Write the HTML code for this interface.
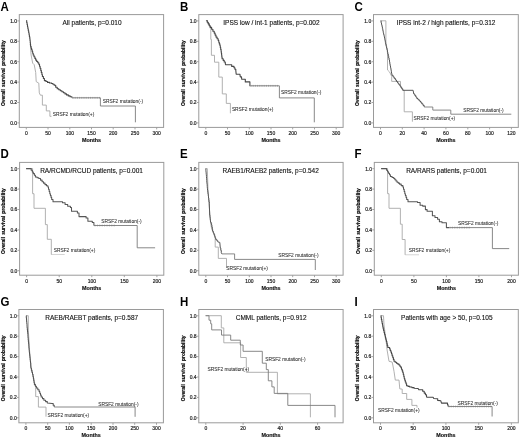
<!DOCTYPE html>
<html><head><meta charset="utf-8"><style>
html,body{margin:0;padding:0;background:#fff;width:520px;height:439px;overflow:hidden}
svg{display:block;will-change:transform}
text{font-family:"Liberation Sans",sans-serif;fill:#222}
.L{font-size:11.5px;font-weight:bold;fill:#000}
.T{font-size:6.5px;fill:#111;stroke:#111;stroke-width:0.12px}
.t{font-size:5px;fill:#222;stroke:#222;stroke-width:0.18px}
.s{font-size:4.85px;fill:#2a2a2a;stroke:#2a2a2a;stroke-width:0.06px}
.M{font-size:5.4px;font-weight:bold;fill:#111;stroke:#111;stroke-width:0.15px}
.Y{font-size:5px;font-weight:bold;fill:#000;stroke:#000;stroke-width:0.16px}
</style></head><body>
<svg width="520" height="439" viewBox="0 0 520 439">
<rect x="19.3" y="14.6" width="144.3" height="112.8" fill="none" stroke="#9a9a9a" stroke-width="1"/>
<text transform="translate(0.4,10.9) scale(1,1.09)" class="L">A</text>
<text x="92.05" y="25.3" class="T" text-anchor="middle">All patients, p=0.010</text>
<line x1="17.3" y1="122.9" x2="19.3" y2="122.9" stroke="#9a9a9a" stroke-width="0.9"/>
<text x="17.1" y="124.7" class="t" text-anchor="end">0.0</text>
<line x1="17.3" y1="102.5" x2="19.3" y2="102.5" stroke="#9a9a9a" stroke-width="0.9"/>
<text x="17.1" y="104.3" class="t" text-anchor="end">0.2</text>
<line x1="17.3" y1="82.1" x2="19.3" y2="82.1" stroke="#9a9a9a" stroke-width="0.9"/>
<text x="17.1" y="83.9" class="t" text-anchor="end">0.4</text>
<line x1="17.3" y1="61.7" x2="19.3" y2="61.7" stroke="#9a9a9a" stroke-width="0.9"/>
<text x="17.1" y="63.5" class="t" text-anchor="end">0.6</text>
<line x1="17.3" y1="41.3" x2="19.3" y2="41.3" stroke="#9a9a9a" stroke-width="0.9"/>
<text x="17.1" y="43.1" class="t" text-anchor="end">0.8</text>
<line x1="17.3" y1="20.9" x2="19.3" y2="20.9" stroke="#9a9a9a" stroke-width="0.9"/>
<text x="17.1" y="22.7" class="t" text-anchor="end">1.0</text>
<line x1="26.3" y1="127.4" x2="26.3" y2="129.4" stroke="#9a9a9a" stroke-width="0.9"/>
<text x="26.3" y="134.8" class="t" text-anchor="middle">0</text>
<line x1="48.0" y1="127.4" x2="48.0" y2="129.4" stroke="#9a9a9a" stroke-width="0.9"/>
<text x="48.0" y="134.8" class="t" text-anchor="middle">50</text>
<line x1="69.8" y1="127.4" x2="69.8" y2="129.4" stroke="#9a9a9a" stroke-width="0.9"/>
<text x="69.8" y="134.8" class="t" text-anchor="middle">100</text>
<line x1="91.5" y1="127.4" x2="91.5" y2="129.4" stroke="#9a9a9a" stroke-width="0.9"/>
<text x="91.5" y="134.8" class="t" text-anchor="middle">150</text>
<line x1="113.2" y1="127.4" x2="113.2" y2="129.4" stroke="#9a9a9a" stroke-width="0.9"/>
<text x="113.2" y="134.8" class="t" text-anchor="middle">200</text>
<line x1="135.0" y1="127.4" x2="135.0" y2="129.4" stroke="#9a9a9a" stroke-width="0.9"/>
<text x="135.0" y="134.8" class="t" text-anchor="middle">250</text>
<line x1="156.7" y1="127.4" x2="156.7" y2="129.4" stroke="#9a9a9a" stroke-width="0.9"/>
<text x="156.7" y="134.8" class="t" text-anchor="middle">300</text>
<text x="91.5" y="141.9" class="M" text-anchor="middle">Months</text>
<text transform="translate(5.1,73.2) rotate(-90)" class="Y" text-anchor="middle" word-spacing="0.8">Overall survival probability</text>
<polyline points="30.3,44.0 31.1,55.0 32.7,63.2 34.2,64.7 35.7,72.4 36.2,81.6 38.8,83.2 39.3,92.9 40.4,95.2 42.4,95.2 42.4,105.1 46.3,105.1 46.3,110.9 49.9,110.9 49.9,116.3 51.5,116.3" fill="none" stroke="#a8a8a8" stroke-width="0.9" stroke-linejoin="round"/>
<polyline points="26.3,20.5 26.7,20.5 26.7,22.6 27.1,22.6 27.1,24.6 27.5,24.6 27.5,26.7 27.9,26.7 27.9,28.7 28.3,28.7 28.3,30.8 28.7,30.8 28.7,32.8 29.1,32.8 29.1,34.8 29.4,34.8 29.4,36.8 29.8,36.8 29.8,38.8 30.0,38.8 30.0,40.6 30.2,40.6 30.2,42.5 30.4,42.5 30.4,44.4 30.6,44.4 30.6,46.2 31.1,46.2 31.1,48.0 31.6,48.0 31.6,49.7 32.2,49.7 32.2,51.5 32.7,51.5 32.7,53.2 33.2,53.2 33.2,55.0 34.0,55.0 34.0,56.7 34.9,56.7 34.9,58.4 35.7,58.4 35.7,60.1 36.7,60.1 36.7,61.5 37.8,61.5 37.8,62.8 38.8,62.8 38.8,64.2 39.5,64.2 39.5,66.3 40.1,66.3 40.1,68.3 40.8,68.3 40.8,70.4 41.3,70.4 41.3,72.4 41.9,72.4 41.9,74.5 42.4,74.5 42.4,76.5 43.4,76.5 43.4,78.5 44.4,78.5 44.4,80.6 46.0,80.6 46.0,81.5 47.5,81.5 47.5,82.4 49.5,82.4 49.5,83.0 51.6,83.0 51.6,83.5 52.9,83.5 52.9,84.3 54.2,84.3 54.2,85.2 55.7,85.2 55.7,87.3 57.2,87.3 57.2,88.7 58.8,88.7 58.8,89.7 60.3,89.7 60.3,90.8 61.9,90.8 61.9,91.8 63.4,91.8 63.4,92.8 65.0,92.8 65.0,93.9 66.5,93.9 66.5,94.9 68.3,94.9 68.3,95.9 70.1,95.9 70.1,96.8 71.9,96.8 71.9,97.8" fill="none" stroke="#474747" stroke-width="1.1" stroke-linejoin="round"/>
<polyline points="71.9,97.8 100.4,97.8 100.4,106.0 135.4,106.0 135.4,122.3" fill="none" stroke="#7a7a7a" stroke-width="0.9" stroke-linejoin="round"/>
<path d="M73.0 96.9v1.8M75.2 96.9v1.8M77.4 96.9v1.8M79.6 96.9v1.8M81.8 96.9v1.8M84.0 96.9v1.8M86.2 96.9v1.8M88.4 96.9v1.8M90.6 96.9v1.8M92.8 96.9v1.8M95.0 96.9v1.8M97.2 96.9v1.8M99.4 96.9v1.8" stroke="#7a7a7a" stroke-width="0.6" fill="none"/>
<text x="102.7" y="103.0" class="s">SRSF2 mutation(-)</text>
<text x="52.7" y="115.8" class="s">SRSF2 mutation(+)</text>
<rect x="198.8" y="14.6" width="144.3" height="112.8" fill="none" stroke="#9a9a9a" stroke-width="1"/>
<text transform="translate(179.9,10.9) scale(1,1.09)" class="L">B</text>
<text x="271.45" y="25.3" class="T" text-anchor="middle">IPSS low / int-1 patients, p=0.002</text>
<line x1="196.8" y1="122.9" x2="198.8" y2="122.9" stroke="#9a9a9a" stroke-width="0.9"/>
<text x="196.6" y="124.7" class="t" text-anchor="end">0.0</text>
<line x1="196.8" y1="102.5" x2="198.8" y2="102.5" stroke="#9a9a9a" stroke-width="0.9"/>
<text x="196.6" y="104.3" class="t" text-anchor="end">0.2</text>
<line x1="196.8" y1="82.1" x2="198.8" y2="82.1" stroke="#9a9a9a" stroke-width="0.9"/>
<text x="196.6" y="83.9" class="t" text-anchor="end">0.4</text>
<line x1="196.8" y1="61.7" x2="198.8" y2="61.7" stroke="#9a9a9a" stroke-width="0.9"/>
<text x="196.6" y="63.5" class="t" text-anchor="end">0.6</text>
<line x1="196.8" y1="41.3" x2="198.8" y2="41.3" stroke="#9a9a9a" stroke-width="0.9"/>
<text x="196.6" y="43.1" class="t" text-anchor="end">0.8</text>
<line x1="196.8" y1="20.9" x2="198.8" y2="20.9" stroke="#9a9a9a" stroke-width="0.9"/>
<text x="196.6" y="22.7" class="t" text-anchor="end">1.0</text>
<line x1="205.8" y1="127.4" x2="205.8" y2="129.4" stroke="#9a9a9a" stroke-width="0.9"/>
<text x="205.8" y="134.8" class="t" text-anchor="middle">0</text>
<line x1="227.5" y1="127.4" x2="227.5" y2="129.4" stroke="#9a9a9a" stroke-width="0.9"/>
<text x="227.5" y="134.8" class="t" text-anchor="middle">50</text>
<line x1="249.3" y1="127.4" x2="249.3" y2="129.4" stroke="#9a9a9a" stroke-width="0.9"/>
<text x="249.3" y="134.8" class="t" text-anchor="middle">100</text>
<line x1="271.0" y1="127.4" x2="271.0" y2="129.4" stroke="#9a9a9a" stroke-width="0.9"/>
<text x="271.0" y="134.8" class="t" text-anchor="middle">150</text>
<line x1="292.7" y1="127.4" x2="292.7" y2="129.4" stroke="#9a9a9a" stroke-width="0.9"/>
<text x="292.7" y="134.8" class="t" text-anchor="middle">200</text>
<line x1="314.5" y1="127.4" x2="314.5" y2="129.4" stroke="#9a9a9a" stroke-width="0.9"/>
<text x="314.5" y="134.8" class="t" text-anchor="middle">250</text>
<line x1="336.2" y1="127.4" x2="336.2" y2="129.4" stroke="#9a9a9a" stroke-width="0.9"/>
<text x="336.2" y="134.8" class="t" text-anchor="middle">300</text>
<text x="271.0" y="141.9" class="M" text-anchor="middle">Months</text>
<text transform="translate(184.6,73.2) rotate(-90)" class="Y" text-anchor="middle" word-spacing="0.8">Overall survival probability</text>
<polyline points="206.3,20.5 209.8,27.0 210.8,29.7 210.8,39.4 211.4,39.4 211.4,55.3 214.5,55.3 214.5,62.2 218.8,62.2 218.8,77.1 222.3,77.1 222.3,93.9 226.3,93.9 226.3,103.4 230.4,103.4 230.4,113.3" fill="none" stroke="#a8a8a8" stroke-width="0.9" stroke-linejoin="round"/>
<polyline points="206.3,20.5 207.3,20.5 207.3,22.2 208.3,22.2 208.3,23.9 209.3,23.9 209.3,25.7 210.3,25.7 210.3,27.4 211.6,27.4 211.6,29.3 212.9,29.3 212.9,31.2 214.2,31.2 214.2,33.1 215.1,33.1 215.1,35.1 216.0,35.1 216.0,37.1 217.1,37.1 217.1,38.8 218.2,38.8 218.2,40.5 218.8,40.5 218.8,42.2 219.3,42.2 219.3,43.9 219.9,43.9 219.9,45.6 220.3,45.6 220.3,47.5 220.7,47.5 220.7,49.4 221.1,49.4 221.1,51.3 221.3,51.3 221.3,53.1 221.6,53.1 221.6,55.0 221.8,55.0 221.8,56.9 222.1,56.9 222.1,58.7 223.2,58.7 223.2,60.4 224.2,60.4 224.2,62.0 225.3,62.0 225.3,63.7 225.7,64.8 229.9,64.8 231.7,64.8 231.7,66.4 234.0,66.4 234.0,67.8 234.9,67.8 234.9,69.2 235.8,69.2 235.8,70.5 236.2,74.2 239.9,74.2 240.3,76.9 241.5,76.9 241.7,79.2 245.3,79.2 245.3,81.9 249.9,81.9 249.9,85.8 250.3,85.8" fill="none" stroke="#474747" stroke-width="1.1" stroke-linejoin="round"/>
<polyline points="250.3,85.8 279.4,85.8 279.4,97.9 314.3,97.9 314.3,122.3" fill="none" stroke="#7a7a7a" stroke-width="0.9" stroke-linejoin="round"/>
<path d="M251.0 84.9v1.8M253.2 84.9v1.8M255.4 84.9v1.8M257.6 84.9v1.8M259.8 84.9v1.8M262.0 84.9v1.8M264.2 84.9v1.8M266.4 84.9v1.8M268.6 84.9v1.8M270.8 84.9v1.8M273.0 84.9v1.8M275.2 84.9v1.8M277.4 84.9v1.8" stroke="#7a7a7a" stroke-width="0.6" fill="none"/>
<text x="281.0" y="93.5" class="s">SRSF2 mutation(-)</text>
<text x="231.9" y="110.5" class="s">SRSF2 mutation(+)</text>
<rect x="373.5" y="14.6" width="144.8" height="112.8" fill="none" stroke="#9a9a9a" stroke-width="1"/>
<text transform="translate(354.6,10.9) scale(1,1.09)" class="L">C</text>
<text x="446.00" y="25.3" class="T" text-anchor="middle">IPSS int-2 / high patients, p=0.312</text>
<line x1="371.5" y1="122.9" x2="373.5" y2="122.9" stroke="#9a9a9a" stroke-width="0.9"/>
<text x="371.3" y="124.7" class="t" text-anchor="end">0.0</text>
<line x1="371.5" y1="102.5" x2="373.5" y2="102.5" stroke="#9a9a9a" stroke-width="0.9"/>
<text x="371.3" y="104.3" class="t" text-anchor="end">0.2</text>
<line x1="371.5" y1="82.1" x2="373.5" y2="82.1" stroke="#9a9a9a" stroke-width="0.9"/>
<text x="371.3" y="83.9" class="t" text-anchor="end">0.4</text>
<line x1="371.5" y1="61.7" x2="373.5" y2="61.7" stroke="#9a9a9a" stroke-width="0.9"/>
<text x="371.3" y="63.5" class="t" text-anchor="end">0.6</text>
<line x1="371.5" y1="41.3" x2="373.5" y2="41.3" stroke="#9a9a9a" stroke-width="0.9"/>
<text x="371.3" y="43.1" class="t" text-anchor="end">0.8</text>
<line x1="371.5" y1="20.9" x2="373.5" y2="20.9" stroke="#9a9a9a" stroke-width="0.9"/>
<text x="371.3" y="22.7" class="t" text-anchor="end">1.0</text>
<line x1="380.5" y1="127.4" x2="380.5" y2="129.4" stroke="#9a9a9a" stroke-width="0.9"/>
<text x="380.5" y="134.8" class="t" text-anchor="middle">0</text>
<line x1="402.3" y1="127.4" x2="402.3" y2="129.4" stroke="#9a9a9a" stroke-width="0.9"/>
<text x="402.3" y="134.8" class="t" text-anchor="middle">20</text>
<line x1="424.1" y1="127.4" x2="424.1" y2="129.4" stroke="#9a9a9a" stroke-width="0.9"/>
<text x="424.1" y="134.8" class="t" text-anchor="middle">40</text>
<line x1="445.9" y1="127.4" x2="445.9" y2="129.4" stroke="#9a9a9a" stroke-width="0.9"/>
<text x="445.9" y="134.8" class="t" text-anchor="middle">60</text>
<line x1="467.8" y1="127.4" x2="467.8" y2="129.4" stroke="#9a9a9a" stroke-width="0.9"/>
<text x="467.8" y="134.8" class="t" text-anchor="middle">80</text>
<line x1="489.6" y1="127.4" x2="489.6" y2="129.4" stroke="#9a9a9a" stroke-width="0.9"/>
<text x="489.6" y="134.8" class="t" text-anchor="middle">100</text>
<line x1="511.4" y1="127.4" x2="511.4" y2="129.4" stroke="#9a9a9a" stroke-width="0.9"/>
<text x="511.4" y="134.8" class="t" text-anchor="middle">120</text>
<text x="445.9" y="141.9" class="M" text-anchor="middle">Months</text>
<text transform="translate(359.3,73.2) rotate(-90)" class="Y" text-anchor="middle" word-spacing="0.8">Overall survival probability</text>
<polyline points="380.7,20.8 385.9,20.8 385.9,45.0 387.5,50.0 387.5,70.0 389.6,72.0 391.7,76.3 391.7,81.4 400.5,81.4 400.5,85.9 402.8,90.3 404.2,90.3 404.2,111.8 412.4,111.8 412.4,121.7" fill="none" stroke="#a8a8a8" stroke-width="0.9" stroke-linejoin="round"/>
<polyline points="380.7,20.8 381.1,20.8 381.1,22.8 381.5,22.8 381.5,24.7 382.0,24.7 382.0,26.7 382.4,26.7 382.4,28.6 382.8,28.6 382.8,30.6 383.2,30.6 383.2,32.6 383.6,32.6 383.6,34.5 384.1,34.5 384.1,36.5 384.5,36.5 384.5,38.4 384.9,38.4 384.9,40.4 385.3,40.4 385.3,42.4 385.7,42.4 385.7,44.3 386.2,44.3 386.2,46.3 386.6,46.3 386.6,48.2 387.0,48.2 387.0,50.2 387.4,50.2 387.4,52.2 387.8,52.2 387.8,54.1 388.3,54.1 388.3,56.1 388.7,56.1 388.7,58.0 389.1,58.0 389.1,60.0 389.5,60.0 389.5,61.9 389.8,61.9 389.8,63.8 390.1,63.8 390.1,65.7 390.5,65.7 390.5,67.7 390.9,67.7 390.9,69.6 391.2,69.6 391.2,71.5 391.5,71.5 391.5,73.4 391.9,73.4 391.9,75.3 393.1,75.3 393.1,76.9 394.2,76.9 394.2,78.4 395.4,78.4 395.4,80.0 396.5,80.0 396.5,81.5 397.6,81.5 397.6,83.0 398.7,83.0 398.7,84.4 399.8,84.4 399.8,85.9 400.8,85.9 400.8,87.4 401.8,87.4 401.8,88.8 402.8,88.8 402.8,90.3 413.1,90.3 413.8,94.0 414.8,94.0 414.8,95.5 415.8,95.5 415.8,97.0 416.8,97.0 416.8,98.5 418.0,98.5 418.0,99.7 419.3,99.7 419.3,101.0 420.5,101.0 420.5,102.2 421.7,102.2 421.7,103.8 423.0,103.8 423.0,105.4 424.2,105.4 424.2,107.0" fill="none" stroke="#555555" stroke-width="1.0" stroke-linejoin="round"/>
<polyline points="424.2,107.0 432.8,107.0 432.8,110.1 450.8,110.1 450.8,114.2 511.3,114.2" fill="none" stroke="#7a7a7a" stroke-width="0.9" stroke-linejoin="round"/>
<text x="463.3" y="112.2" class="s">SRSF2 mutation(-)</text>
<text x="413.5" y="119.8" class="s">SRSF2 mutation(+)</text>
<rect x="19.6" y="162.4" width="144.2" height="112.8" fill="none" stroke="#9a9a9a" stroke-width="1"/>
<text transform="translate(0.4,158.2) scale(1,1.09)" class="L">D</text>
<text x="91.55" y="173.1" class="T" text-anchor="middle">RA/RCMD/RCUD patients, p=0.001</text>
<line x1="17.6" y1="270.7" x2="19.6" y2="270.7" stroke="#9a9a9a" stroke-width="0.9"/>
<text x="17.4" y="272.5" class="t" text-anchor="end">0.0</text>
<line x1="17.6" y1="250.3" x2="19.6" y2="250.3" stroke="#9a9a9a" stroke-width="0.9"/>
<text x="17.4" y="252.1" class="t" text-anchor="end">0.2</text>
<line x1="17.6" y1="229.9" x2="19.6" y2="229.9" stroke="#9a9a9a" stroke-width="0.9"/>
<text x="17.4" y="231.7" class="t" text-anchor="end">0.4</text>
<line x1="17.6" y1="209.5" x2="19.6" y2="209.5" stroke="#9a9a9a" stroke-width="0.9"/>
<text x="17.4" y="211.3" class="t" text-anchor="end">0.6</text>
<line x1="17.6" y1="189.1" x2="19.6" y2="189.1" stroke="#9a9a9a" stroke-width="0.9"/>
<text x="17.4" y="190.9" class="t" text-anchor="end">0.8</text>
<line x1="17.6" y1="168.7" x2="19.6" y2="168.7" stroke="#9a9a9a" stroke-width="0.9"/>
<text x="17.4" y="170.5" class="t" text-anchor="end">1.0</text>
<line x1="26.6" y1="275.2" x2="26.6" y2="277.2" stroke="#9a9a9a" stroke-width="0.9"/>
<text x="26.6" y="282.6" class="t" text-anchor="middle">0</text>
<line x1="59.2" y1="275.2" x2="59.2" y2="277.2" stroke="#9a9a9a" stroke-width="0.9"/>
<text x="59.2" y="282.6" class="t" text-anchor="middle">50</text>
<line x1="91.8" y1="275.2" x2="91.8" y2="277.2" stroke="#9a9a9a" stroke-width="0.9"/>
<text x="91.8" y="282.6" class="t" text-anchor="middle">100</text>
<line x1="124.3" y1="275.2" x2="124.3" y2="277.2" stroke="#9a9a9a" stroke-width="0.9"/>
<text x="124.3" y="282.6" class="t" text-anchor="middle">150</text>
<line x1="156.9" y1="275.2" x2="156.9" y2="277.2" stroke="#9a9a9a" stroke-width="0.9"/>
<text x="156.9" y="282.6" class="t" text-anchor="middle">200</text>
<text x="91.7" y="289.7" class="M" text-anchor="middle">Months</text>
<text transform="translate(5.4,221.0) rotate(-90)" class="Y" text-anchor="middle" word-spacing="0.8">Overall survival probability</text>
<polyline points="51.1,254.5 64.7,254.5" fill="none" stroke="#d0d0d0" stroke-width="0.9" stroke-linejoin="round"/>
<polyline points="26.1,168.6 32.6,168.6 32.6,193.7 34.0,193.7 34.0,208.3 45.4,208.3 45.4,224.6 47.3,224.6 47.3,239.3 51.3,239.3 51.3,254.5" fill="none" stroke="#a8a8a8" stroke-width="0.9" stroke-linejoin="round"/>
<polyline points="26.1,168.6 30.2,168.6 31.2,168.6 31.2,170.3 32.3,170.3 32.3,171.9 33.3,171.9 33.3,173.6 34.4,173.6 34.4,175.2 35.4,175.2 35.4,176.9 37.1,176.9 37.1,177.7 38.8,177.7 38.8,178.4 40.5,178.4 40.5,180.1 42.1,180.1 42.1,181.7 43.5,181.7 43.5,183.1 45.0,183.1 45.0,184.6 46.5,184.6 46.5,185.8 47.9,185.8 47.9,187.0 48.5,187.0 48.5,189.2 49.2,189.2 49.2,191.5 49.8,191.5 49.8,193.7 50.4,193.7 50.4,195.6 51.1,195.6 51.1,197.5 51.7,197.5 51.7,199.4 53.0,199.4 53.0,201.7 62.5,201.7 62.5,202.8 65.1,202.8 65.1,204.5 67.7,204.5 67.7,206.3 70.4,206.3 70.4,207.5 71.5,207.5 71.5,211.3 77.4,211.3 77.4,213.0 79.0,213.0 79.0,216.6 86.1,216.6 86.1,218.0 87.9,218.0 87.9,221.3 92.3,221.3 92.3,222.5 93.9,222.5 93.9,225.5" fill="none" stroke="#555555" stroke-width="1.05" stroke-linejoin="round"/>
<polyline points="93.9,225.5 137.2,225.5 137.2,247.8 155.1,247.8" fill="none" stroke="#7a7a7a" stroke-width="0.9" stroke-linejoin="round"/>
<path d="M95.0 224.6v1.8M97.4 224.6v1.8M99.8 224.6v1.8M102.2 224.6v1.8M104.6 224.6v1.8M107.0 224.6v1.8M109.4 224.6v1.8M111.8 224.6v1.8M114.2 224.6v1.8" stroke="#7a7a7a" stroke-width="0.6" fill="none"/>
<text x="101.3" y="223.4" class="s">SRSF2 mutation(-)</text>
<text x="53.7" y="252.4" class="s">SRSF2 mutation(+)</text>
<rect x="198.8" y="162.4" width="144.3" height="112.8" fill="none" stroke="#9a9a9a" stroke-width="1"/>
<text transform="translate(179.9,158.2) scale(1,1.09)" class="L">E</text>
<text x="270.65" y="173.1" class="T" text-anchor="middle">RAEB1/RAEB2 patients, p=0.542</text>
<line x1="196.8" y1="270.7" x2="198.8" y2="270.7" stroke="#9a9a9a" stroke-width="0.9"/>
<text x="196.6" y="272.5" class="t" text-anchor="end">0.0</text>
<line x1="196.8" y1="250.3" x2="198.8" y2="250.3" stroke="#9a9a9a" stroke-width="0.9"/>
<text x="196.6" y="252.1" class="t" text-anchor="end">0.2</text>
<line x1="196.8" y1="229.9" x2="198.8" y2="229.9" stroke="#9a9a9a" stroke-width="0.9"/>
<text x="196.6" y="231.7" class="t" text-anchor="end">0.4</text>
<line x1="196.8" y1="209.5" x2="198.8" y2="209.5" stroke="#9a9a9a" stroke-width="0.9"/>
<text x="196.6" y="211.3" class="t" text-anchor="end">0.6</text>
<line x1="196.8" y1="189.1" x2="198.8" y2="189.1" stroke="#9a9a9a" stroke-width="0.9"/>
<text x="196.6" y="190.9" class="t" text-anchor="end">0.8</text>
<line x1="196.8" y1="168.7" x2="198.8" y2="168.7" stroke="#9a9a9a" stroke-width="0.9"/>
<text x="196.6" y="170.5" class="t" text-anchor="end">1.0</text>
<line x1="205.8" y1="275.2" x2="205.8" y2="277.2" stroke="#9a9a9a" stroke-width="0.9"/>
<text x="205.8" y="282.6" class="t" text-anchor="middle">0</text>
<line x1="227.5" y1="275.2" x2="227.5" y2="277.2" stroke="#9a9a9a" stroke-width="0.9"/>
<text x="227.5" y="282.6" class="t" text-anchor="middle">50</text>
<line x1="249.3" y1="275.2" x2="249.3" y2="277.2" stroke="#9a9a9a" stroke-width="0.9"/>
<text x="249.3" y="282.6" class="t" text-anchor="middle">100</text>
<line x1="271.0" y1="275.2" x2="271.0" y2="277.2" stroke="#9a9a9a" stroke-width="0.9"/>
<text x="271.0" y="282.6" class="t" text-anchor="middle">150</text>
<line x1="292.7" y1="275.2" x2="292.7" y2="277.2" stroke="#9a9a9a" stroke-width="0.9"/>
<text x="292.7" y="282.6" class="t" text-anchor="middle">200</text>
<line x1="314.5" y1="275.2" x2="314.5" y2="277.2" stroke="#9a9a9a" stroke-width="0.9"/>
<text x="314.5" y="282.6" class="t" text-anchor="middle">250</text>
<line x1="336.2" y1="275.2" x2="336.2" y2="277.2" stroke="#9a9a9a" stroke-width="0.9"/>
<text x="336.2" y="282.6" class="t" text-anchor="middle">300</text>
<text x="271.0" y="289.7" class="M" text-anchor="middle">Months</text>
<text transform="translate(184.6,221.0) rotate(-90)" class="Y" text-anchor="middle" word-spacing="0.8">Overall survival probability</text>
<polyline points="205.7,168.6 207.3,168.6 208.0,190.0 209.5,210.0 210.5,222.0 211.6,228.7 213.5,233.0 215.2,238.3 215.2,247.1 218.3,247.1 218.3,258.4 226.5,258.4 226.5,268.0" fill="none" stroke="#a8a8a8" stroke-width="0.9" stroke-linejoin="round"/>
<polyline points="205.7,168.6 205.9,168.6 205.9,170.6 206.0,170.6 206.0,172.5 206.2,172.5 206.2,174.5 206.4,174.5 206.4,176.5 206.5,176.5 206.5,178.5 206.7,178.5 206.7,180.4 206.8,180.4 206.8,182.4 207.0,182.4 207.0,184.4 207.2,184.4 207.2,186.4 207.3,186.4 207.3,188.3 207.5,188.3 207.5,190.3 207.8,190.3 207.8,192.2 208.0,192.2 208.0,194.2 208.3,194.2 208.3,196.1 208.5,196.1 208.5,198.1 208.8,198.1 208.8,200.0 209.0,200.0 209.0,202.0 209.3,202.0 209.3,203.9 209.7,215.0 209.9,215.0 209.9,216.8 210.1,216.8 210.1,218.5 210.3,218.5 210.3,220.2 210.5,220.2 210.5,222.0 211.1,222.0 211.1,223.5 211.6,223.5 211.6,225.0 211.9,225.0 211.9,227.1 212.3,227.1 212.3,229.1 212.6,229.1 212.6,231.2 213.3,231.2 213.3,232.9 214.0,232.9 214.0,234.6 214.7,234.6 214.7,236.3 215.2,236.3 215.2,237.9 215.7,237.9 215.7,239.4 216.8,239.4 216.8,240.7 217.8,240.7 217.8,241.9 219.8,242.4 220.3,248.1 220.8,248.1 220.8,250.4 221.3,250.4 221.3,252.7 221.9,253.9" fill="none" stroke="#555555" stroke-width="1.0" stroke-linejoin="round"/>
<polyline points="221.9,253.9 234.6,253.9 234.6,259.4 315.3,259.4 315.3,270.0" fill="none" stroke="#7a7a7a" stroke-width="0.9" stroke-linejoin="round"/>
<text x="278.2" y="256.8" class="s">SRSF2 mutation(-)</text>
<text x="226.3" y="269.6" class="s">SRSF2 mutation(+)</text>
<rect x="374.3" y="162.4" width="144.1" height="112.8" fill="none" stroke="#9a9a9a" stroke-width="1"/>
<text transform="translate(354.6,158.2) scale(1,1.09)" class="L">F</text>
<text x="446.55" y="173.1" class="T" text-anchor="middle">RA/RARS patients, p=0.001</text>
<line x1="372.3" y1="270.7" x2="374.3" y2="270.7" stroke="#9a9a9a" stroke-width="0.9"/>
<text x="372.1" y="272.5" class="t" text-anchor="end">0.0</text>
<line x1="372.3" y1="250.3" x2="374.3" y2="250.3" stroke="#9a9a9a" stroke-width="0.9"/>
<text x="372.1" y="252.1" class="t" text-anchor="end">0.2</text>
<line x1="372.3" y1="229.9" x2="374.3" y2="229.9" stroke="#9a9a9a" stroke-width="0.9"/>
<text x="372.1" y="231.7" class="t" text-anchor="end">0.4</text>
<line x1="372.3" y1="209.5" x2="374.3" y2="209.5" stroke="#9a9a9a" stroke-width="0.9"/>
<text x="372.1" y="211.3" class="t" text-anchor="end">0.6</text>
<line x1="372.3" y1="189.1" x2="374.3" y2="189.1" stroke="#9a9a9a" stroke-width="0.9"/>
<text x="372.1" y="190.9" class="t" text-anchor="end">0.8</text>
<line x1="372.3" y1="168.7" x2="374.3" y2="168.7" stroke="#9a9a9a" stroke-width="0.9"/>
<text x="372.1" y="170.5" class="t" text-anchor="end">1.0</text>
<line x1="381.3" y1="275.2" x2="381.3" y2="277.2" stroke="#9a9a9a" stroke-width="0.9"/>
<text x="381.3" y="282.6" class="t" text-anchor="middle">0</text>
<line x1="413.9" y1="275.2" x2="413.9" y2="277.2" stroke="#9a9a9a" stroke-width="0.9"/>
<text x="413.9" y="282.6" class="t" text-anchor="middle">50</text>
<line x1="446.4" y1="275.2" x2="446.4" y2="277.2" stroke="#9a9a9a" stroke-width="0.9"/>
<text x="446.4" y="282.6" class="t" text-anchor="middle">100</text>
<line x1="478.9" y1="275.2" x2="478.9" y2="277.2" stroke="#9a9a9a" stroke-width="0.9"/>
<text x="478.9" y="282.6" class="t" text-anchor="middle">150</text>
<line x1="511.5" y1="275.2" x2="511.5" y2="277.2" stroke="#9a9a9a" stroke-width="0.9"/>
<text x="511.5" y="282.6" class="t" text-anchor="middle">200</text>
<text x="446.4" y="289.7" class="M" text-anchor="middle">Months</text>
<text transform="translate(360.1,221.0) rotate(-90)" class="Y" text-anchor="middle" word-spacing="0.8">Overall survival probability</text>
<polyline points="405.1,254.8 419.0,254.8" fill="none" stroke="#d0d0d0" stroke-width="0.9" stroke-linejoin="round"/>
<polyline points="381.1,168.6 387.6,168.6 387.6,193.7 389.0,193.7 389.0,208.3 400.4,208.3 400.4,224.2 402.2,224.2 402.2,239.5 405.1,239.5 405.1,254.8" fill="none" stroke="#a8a8a8" stroke-width="0.9" stroke-linejoin="round"/>
<polyline points="381.1,168.6 385.7,168.6 386.6,168.6 386.6,170.2 387.6,170.2 387.6,171.7 388.5,171.7 388.5,173.3 389.5,173.3 389.5,174.8 390.4,174.8 390.4,176.4 392.1,176.4 392.1,177.4 393.8,177.4 393.8,178.4 394.9,178.4 394.9,179.7 396.0,179.7 396.0,180.9 397.1,180.9 397.1,182.2 398.3,182.2 398.3,183.1 399.5,183.1 399.5,184.1 401.2,184.1 401.2,185.6 402.9,185.6 402.9,187.0 403.5,187.0 403.5,189.2 404.2,189.2 404.2,191.5 404.8,191.5 404.8,193.7 405.4,193.7 405.4,195.6 406.1,195.6 406.1,197.5 406.7,197.5 406.7,199.4 408.0,199.4 408.0,201.7 417.5,201.7 417.5,202.5 420.1,202.5 420.1,205.2 422.7,205.2 422.7,206.1 425.4,206.1 425.4,209.6 427.1,209.6 427.1,211.3 432.4,211.3 432.4,215.7 435.0,215.7 435.0,217.5 437.6,217.5 437.6,219.2 439.4,219.2 439.4,221.8 442.0,221.8 442.0,222.7 446.4,222.7 446.4,227.6 449.1,227.6" fill="none" stroke="#555555" stroke-width="1.05" stroke-linejoin="round"/>
<polyline points="449.1,227.6 492.4,227.6 492.4,248.6 509.2,248.6" fill="none" stroke="#7a7a7a" stroke-width="0.9" stroke-linejoin="round"/>
<path d="M450.0 226.7v1.8M452.4 226.7v1.8M454.8 226.7v1.8M457.2 226.7v1.8M459.6 226.7v1.8M462.0 226.7v1.8M464.4 226.7v1.8M466.8 226.7v1.8M469.2 226.7v1.8" stroke="#7a7a7a" stroke-width="0.6" fill="none"/>
<text x="458.0" y="225.1" class="s">SRSF2 mutation(-)</text>
<text x="408.7" y="252.4" class="s">SRSF2 mutation(+)</text>
<rect x="18.9" y="309.5" width="144.5" height="113.3" fill="none" stroke="#9a9a9a" stroke-width="1"/>
<text transform="translate(0.4,306.2) scale(1,1.09)" class="L">G</text>
<text x="91.65" y="320.2" class="T" text-anchor="middle">RAEB/RAEBT patients, p=0.587</text>
<line x1="16.9" y1="417.8" x2="18.9" y2="417.8" stroke="#9a9a9a" stroke-width="0.9"/>
<text x="16.7" y="419.6" class="t" text-anchor="end">0.0</text>
<line x1="16.9" y1="397.4" x2="18.9" y2="397.4" stroke="#9a9a9a" stroke-width="0.9"/>
<text x="16.7" y="399.2" class="t" text-anchor="end">0.2</text>
<line x1="16.9" y1="377.0" x2="18.9" y2="377.0" stroke="#9a9a9a" stroke-width="0.9"/>
<text x="16.7" y="378.8" class="t" text-anchor="end">0.4</text>
<line x1="16.9" y1="356.6" x2="18.9" y2="356.6" stroke="#9a9a9a" stroke-width="0.9"/>
<text x="16.7" y="358.4" class="t" text-anchor="end">0.6</text>
<line x1="16.9" y1="336.2" x2="18.9" y2="336.2" stroke="#9a9a9a" stroke-width="0.9"/>
<text x="16.7" y="338.0" class="t" text-anchor="end">0.8</text>
<line x1="16.9" y1="315.8" x2="18.9" y2="315.8" stroke="#9a9a9a" stroke-width="0.9"/>
<text x="16.7" y="317.6" class="t" text-anchor="end">1.0</text>
<line x1="25.9" y1="422.8" x2="25.9" y2="424.8" stroke="#9a9a9a" stroke-width="0.9"/>
<text x="25.9" y="430.2" class="t" text-anchor="middle">0</text>
<line x1="47.7" y1="422.8" x2="47.7" y2="424.8" stroke="#9a9a9a" stroke-width="0.9"/>
<text x="47.7" y="430.2" class="t" text-anchor="middle">50</text>
<line x1="69.4" y1="422.8" x2="69.4" y2="424.8" stroke="#9a9a9a" stroke-width="0.9"/>
<text x="69.4" y="430.2" class="t" text-anchor="middle">100</text>
<line x1="91.2" y1="422.8" x2="91.2" y2="424.8" stroke="#9a9a9a" stroke-width="0.9"/>
<text x="91.2" y="430.2" class="t" text-anchor="middle">150</text>
<line x1="113.0" y1="422.8" x2="113.0" y2="424.8" stroke="#9a9a9a" stroke-width="0.9"/>
<text x="113.0" y="430.2" class="t" text-anchor="middle">200</text>
<line x1="134.7" y1="422.8" x2="134.7" y2="424.8" stroke="#9a9a9a" stroke-width="0.9"/>
<text x="134.7" y="430.2" class="t" text-anchor="middle">250</text>
<line x1="156.5" y1="422.8" x2="156.5" y2="424.8" stroke="#9a9a9a" stroke-width="0.9"/>
<text x="156.5" y="430.2" class="t" text-anchor="middle">300</text>
<text x="91.2" y="437.3" class="M" text-anchor="middle">Months</text>
<text transform="translate(4.7,368.3) rotate(-90)" class="Y" text-anchor="middle" word-spacing="0.8">Overall survival probability</text>
<polyline points="26.1,315.7 28.3,315.7 28.3,330.0 29.5,350.0 31.0,366.0 33.5,378.0 35.7,387.3 35.7,396.6 38.4,396.6 38.4,407.1 46.0,407.1 46.0,416.7" fill="none" stroke="#a8a8a8" stroke-width="0.9" stroke-linejoin="round"/>
<polyline points="26.1,315.7 26.3,315.7 26.3,317.7 26.5,317.7 26.5,319.6 26.6,319.6 26.6,321.6 26.8,321.6 26.8,323.6 27.0,323.6 27.0,325.6 27.1,325.6 27.1,327.6 27.3,327.6 27.3,329.5 27.5,329.5 27.5,331.5 27.7,331.5 27.7,333.6 27.9,333.6 27.9,335.6 28.0,335.6 28.0,337.6 28.2,337.6 28.2,339.7 28.4,339.7 28.4,341.8 28.6,341.8 28.6,343.8 28.8,343.8 28.8,345.9 28.9,345.9 28.9,347.9 29.1,347.9 29.1,349.9 29.3,349.9 29.3,352.0 29.5,352.0 29.5,353.9 29.7,353.9 29.7,355.7 29.9,355.7 29.9,357.6 30.1,357.6 30.1,359.4 30.3,359.4 30.3,361.3 30.5,361.3 30.5,363.1 30.7,363.1 30.7,365.0 30.9,368.2 31.4,368.2 31.4,370.2 31.9,370.2 31.9,372.3 32.5,372.3 32.5,374.3 33.0,374.3 33.0,376.4 33.4,376.4 33.4,378.4 33.7,378.4 33.7,380.5 34.0,380.5 34.0,382.6 34.4,382.6 34.4,384.6 35.4,384.6 35.4,386.3 36.4,386.3 36.4,388.0 37.8,388.0 37.8,389.7 39.1,389.7 39.1,391.4 39.8,391.4 39.8,393.2 40.5,393.2 40.5,395.1 41.2,395.1 41.2,396.9 42.5,396.9 42.5,398.6 43.9,398.6 43.9,400.3 45.6,400.3 45.6,401.6 47.3,401.6 47.3,403.0 52.1,403.5 53.2,403.5 53.2,405.2 54.2,405.2 54.2,407.0" fill="none" stroke="#555555" stroke-width="1.05" stroke-linejoin="round"/>
<polyline points="54.2,407.0 135.1,407.0 135.1,416.8" fill="none" stroke="#7a7a7a" stroke-width="0.9" stroke-linejoin="round"/>
<text x="98.2" y="405.6" class="s">SRSF2 mutation(-)</text>
<text x="47.5" y="416.6" class="s">SRSF2 mutation(+)</text>
<rect x="198.8" y="309.5" width="144.3" height="113.3" fill="none" stroke="#9a9a9a" stroke-width="1"/>
<text transform="translate(179.9,306.2) scale(1,1.09)" class="L">H</text>
<text x="271.15" y="320.2" class="T" text-anchor="middle">CMML patients, p=0.912</text>
<line x1="196.8" y1="417.8" x2="198.8" y2="417.8" stroke="#9a9a9a" stroke-width="0.9"/>
<text x="196.6" y="419.6" class="t" text-anchor="end">0.0</text>
<line x1="196.8" y1="397.4" x2="198.8" y2="397.4" stroke="#9a9a9a" stroke-width="0.9"/>
<text x="196.6" y="399.2" class="t" text-anchor="end">0.2</text>
<line x1="196.8" y1="377.0" x2="198.8" y2="377.0" stroke="#9a9a9a" stroke-width="0.9"/>
<text x="196.6" y="378.8" class="t" text-anchor="end">0.4</text>
<line x1="196.8" y1="356.6" x2="198.8" y2="356.6" stroke="#9a9a9a" stroke-width="0.9"/>
<text x="196.6" y="358.4" class="t" text-anchor="end">0.6</text>
<line x1="196.8" y1="336.2" x2="198.8" y2="336.2" stroke="#9a9a9a" stroke-width="0.9"/>
<text x="196.6" y="338.0" class="t" text-anchor="end">0.8</text>
<line x1="196.8" y1="315.8" x2="198.8" y2="315.8" stroke="#9a9a9a" stroke-width="0.9"/>
<text x="196.6" y="317.6" class="t" text-anchor="end">1.0</text>
<line x1="205.8" y1="422.8" x2="205.8" y2="424.8" stroke="#9a9a9a" stroke-width="0.9"/>
<text x="205.8" y="430.2" class="t" text-anchor="middle">0</text>
<line x1="243.1" y1="422.8" x2="243.1" y2="424.8" stroke="#9a9a9a" stroke-width="0.9"/>
<text x="243.1" y="430.2" class="t" text-anchor="middle">20</text>
<line x1="280.3" y1="422.8" x2="280.3" y2="424.8" stroke="#9a9a9a" stroke-width="0.9"/>
<text x="280.3" y="430.2" class="t" text-anchor="middle">40</text>
<line x1="317.6" y1="422.8" x2="317.6" y2="424.8" stroke="#9a9a9a" stroke-width="0.9"/>
<text x="317.6" y="430.2" class="t" text-anchor="middle">60</text>
<text x="271.0" y="437.3" class="M" text-anchor="middle">Months</text>
<text transform="translate(184.6,368.3) rotate(-90)" class="Y" text-anchor="middle" word-spacing="0.8">Overall survival probability</text>
<polyline points="205.6,315.7 221.3,315.7 221.3,327.9 223.8,327.9 223.8,342.8 240.6,342.8 240.6,357.5 246.3,357.5 246.3,372.3 277.4,372.3 277.4,393.8 310.4,393.8 310.4,417.3" fill="none" stroke="#a8a8a8" stroke-width="0.9" stroke-linejoin="round"/>
<polyline points="205.6,315.7 209.0,315.7 209.0,320.2 210.7,320.2 210.7,323.8 211.7,323.8 211.7,329.9 221.5,329.9 221.5,335.1 230.7,335.1 230.7,340.2 240.3,340.2 240.3,345.0 243.1,345.0 243.1,351.3 262.3,351.3 262.3,363.2 266.3,363.2 266.3,369.6 268.3,369.6 268.3,380.8 271.9,380.8 271.9,386.9 274.2,386.9 274.2,393.4 287.8,393.4 287.8,405.4 335.0,405.4 335.0,417.3" fill="none" stroke="#7a7a7a" stroke-width="0.9" stroke-linejoin="round"/>
<text x="265.2" y="361.2" class="s">SRSF2 mutation(-)</text>
<text x="207.5" y="370.8" class="s">SRSF2 mutation(+)</text>
<rect x="373.5" y="309.5" width="144.8" height="113.3" fill="none" stroke="#9a9a9a" stroke-width="1"/>
<text transform="translate(354.6,306.2) scale(1,1.09)" class="L">I</text>
<text x="446.80" y="320.2" class="T" text-anchor="middle">Patients with age &gt; 50, p=0.105</text>
<line x1="371.5" y1="417.8" x2="373.5" y2="417.8" stroke="#9a9a9a" stroke-width="0.9"/>
<text x="371.3" y="419.6" class="t" text-anchor="end">0.0</text>
<line x1="371.5" y1="397.4" x2="373.5" y2="397.4" stroke="#9a9a9a" stroke-width="0.9"/>
<text x="371.3" y="399.2" class="t" text-anchor="end">0.2</text>
<line x1="371.5" y1="377.0" x2="373.5" y2="377.0" stroke="#9a9a9a" stroke-width="0.9"/>
<text x="371.3" y="378.8" class="t" text-anchor="end">0.4</text>
<line x1="371.5" y1="356.6" x2="373.5" y2="356.6" stroke="#9a9a9a" stroke-width="0.9"/>
<text x="371.3" y="358.4" class="t" text-anchor="end">0.6</text>
<line x1="371.5" y1="336.2" x2="373.5" y2="336.2" stroke="#9a9a9a" stroke-width="0.9"/>
<text x="371.3" y="338.0" class="t" text-anchor="end">0.8</text>
<line x1="371.5" y1="315.8" x2="373.5" y2="315.8" stroke="#9a9a9a" stroke-width="0.9"/>
<text x="371.3" y="317.6" class="t" text-anchor="end">1.0</text>
<line x1="380.5" y1="422.8" x2="380.5" y2="424.8" stroke="#9a9a9a" stroke-width="0.9"/>
<text x="380.5" y="430.2" class="t" text-anchor="middle">0</text>
<line x1="413.2" y1="422.8" x2="413.2" y2="424.8" stroke="#9a9a9a" stroke-width="0.9"/>
<text x="413.2" y="430.2" class="t" text-anchor="middle">50</text>
<line x1="445.9" y1="422.8" x2="445.9" y2="424.8" stroke="#9a9a9a" stroke-width="0.9"/>
<text x="445.9" y="430.2" class="t" text-anchor="middle">100</text>
<line x1="478.7" y1="422.8" x2="478.7" y2="424.8" stroke="#9a9a9a" stroke-width="0.9"/>
<text x="478.7" y="430.2" class="t" text-anchor="middle">150</text>
<line x1="511.4" y1="422.8" x2="511.4" y2="424.8" stroke="#9a9a9a" stroke-width="0.9"/>
<text x="511.4" y="430.2" class="t" text-anchor="middle">200</text>
<text x="445.9" y="437.3" class="M" text-anchor="middle">Months</text>
<text transform="translate(359.3,368.3) rotate(-90)" class="Y" text-anchor="middle" word-spacing="0.8">Overall survival probability</text>
<polyline points="380.7,315.7 383.5,315.7 384.0,325.0 386.0,340.0 387.1,350.0 389.0,361.3 392.1,362.0 392.8,365.0 394.0,371.3 395.3,380.1 399.0,380.1 399.8,388.9 402.2,389.1 402.2,393.5 406.7,393.5 406.7,399.4 411.9,399.4 411.9,405.4 417.0,405.4 417.0,407.6" fill="none" stroke="#a8a8a8" stroke-width="0.9" stroke-linejoin="round"/>
<polyline points="380.7,315.7 381.1,315.7 381.1,317.6 381.4,317.6 381.4,319.4 381.8,319.4 381.8,321.3 382.1,321.3 382.1,323.2 382.5,323.2 382.5,325.1 382.8,325.1 382.8,326.9 383.2,326.9 383.2,328.8 383.6,328.8 383.6,330.6 384.1,330.6 384.1,332.4 384.5,332.4 384.5,334.2 385.0,334.2 385.0,336.1 385.4,336.1 385.4,337.9 385.9,337.9 385.9,339.7 386.4,339.7 386.4,341.6 386.9,341.6 386.9,343.6 387.3,343.6 387.3,345.6 387.8,345.6 387.8,347.5 389.6,347.5 389.6,348.8 390.2,348.8 390.2,350.5 390.9,350.5 390.9,352.1 391.5,352.1 391.5,353.8 392.1,353.8 392.1,355.7 392.8,355.7 392.8,357.6 393.4,357.6 393.4,359.4 394.0,359.4 394.0,361.3 395.2,361.3 395.2,362.2 396.5,362.2 396.5,363.2 397.8,363.2 397.8,364.1 399.0,364.1 399.0,365.0 399.9,365.0 399.9,366.3 400.9,366.3 400.9,367.6 401.5,367.6 401.5,369.3 402.2,369.3 402.2,370.9 402.8,370.9 402.8,372.6 403.3,372.6 403.3,374.5 403.8,374.5 403.8,376.4 404.2,376.4 404.2,378.2 404.7,378.2 404.7,380.1 405.3,380.1 405.3,382.0 406.0,382.0 406.0,383.8 406.6,383.8 406.6,385.7 408.1,385.7 408.1,386.4 409.7,386.4 409.7,387.0 411.9,387.0 411.9,387.6 414.1,387.6 414.1,388.2 418.1,388.5 418.8,389.6 421.9,389.8 422.7,389.8 422.7,391.2 424.2,391.2 424.2,393.1 425.4,393.1 425.4,394.8 426.5,394.8 426.5,396.5 426.9,397.3 433.1,397.3 433.8,398.5 436.9,398.8 437.7,398.8 437.7,400.4 440.8,400.8 441.5,403.1 446.9,403.1 447.5,403.1 447.5,404.8 448.1,404.8 448.1,406.5" fill="none" stroke="#474747" stroke-width="1.1" stroke-linejoin="round"/>
<polyline points="448.1,406.5 492.1,406.5 492.1,416.5" fill="none" stroke="#7a7a7a" stroke-width="0.9" stroke-linejoin="round"/>
<path d="M449.0 405.6v1.8M451.2 405.6v1.8M453.4 405.6v1.8M455.6 405.6v1.8M457.8 405.6v1.8M460.0 405.6v1.8M462.2 405.6v1.8M464.4 405.6v1.8M466.6 405.6v1.8M468.8 405.6v1.8M471.0 405.6v1.8M473.2 405.6v1.8M475.4 405.6v1.8M477.6 405.6v1.8M479.8 405.6v1.8M482.0 405.6v1.8M484.2 405.6v1.8M486.4 405.6v1.8M488.6 405.6v1.8M490.8 405.6v1.8" stroke="#7a7a7a" stroke-width="0.6" fill="none"/>
<text x="457.5" y="405.1" class="s">SRSF2 mutation(-)</text>
<text x="378.0" y="412.1" class="s">SRSF2 mutation(+)</text>
</svg>
</body></html>
